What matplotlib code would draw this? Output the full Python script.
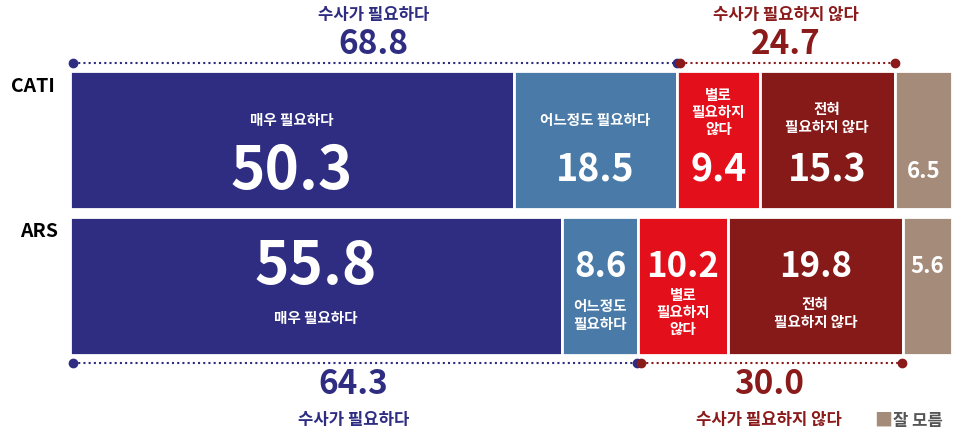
import matplotlib
matplotlib.use("Agg")
import matplotlib.pyplot as plt

plt.rcParams['font.family'] = ['Noto Sans CJK KR', 'DejaVu Sans']

rows = ["CATI", "ARS"]
cati = [50.3, 18.5, 9.4, 15.3, 6.5]
ars = [55.8, 8.6, 10.2, 19.8, 5.6]
cat_labels = ["매우 필요하다", "어느정도 필요하다", "별로 필요하지 않다", "전혀 필요하지 않다", "잘 모름"]
need_top, noneed_top = 68.8, 24.7
need_bot, noneed_bot = 64.3, 30.0
colors = ["#2e2d82", "#4a7ba8", "#e3101b", "#861a19", "#a58b7a"]
navy, dred = "#2e2d82", "#8b1a1a"

fig = plt.figure(figsize=(9.6, 4.35), dpi=100)
ax = fig.add_axes([0, 0, 1, 1])
s = 8.82
ax.set_xlim(-70 / s, (960 - 70) / s)
ax.set_ylim(435, 0)
ax.axis("off")

yc = [141, 287]
h = 138
for vals, y in zip([cati, ars], yc):
    left = 0
    for v, c in zip(vals, colors):
        ax.barh(y, v, left=left, height=h, color=c, edgecolor="white", linewidth=2)
        left += v

W = "white"
def t(x, y, s_, fs, c=W, w="heavy", **kw):
    ax.text(x, y, s_, fontsize=fs, color=c, ha="center", va="center", fontweight=w, **kw)

LB = 10.5
b = [0]
for v in cati: b.append(b[-1] + v)
m = [(b[i] + b[i + 1]) / 2 for i in range(5)]
t(m[0], 120, "매우 필요하다", LB, w="bold")
t(m[0], 172, f"{cati[0]}", 42)
t(m[1], 120, "어느정도 필요하다", LB, w="bold")
t(m[1], 170, f"{cati[1]}", 27)
t(m[2], 112, "별로\n필요하지\n않다", LB, w="bold", linespacing=1.1)
t(m[2], 170, f"{cati[2]}", 27)
t(m[3], 118, "전혀\n필요하지 않다", LB, w="bold", linespacing=1.1)
t(m[3], 170, f"{cati[3]}", 27)
t(m[4], 172, f"{cati[4]}", 16)

b = [0]
for v in ars: b.append(b[-1] + v)
m = [(b[i] + b[i + 1]) / 2 for i in range(5)]
t(m[0], 267, f"{ars[0]}", 42)
t(m[0], 318, "매우 필요하다", LB, w="bold")
t(m[1], 267, f"{ars[1]}", 25)
t(m[1], 315, "어느정도\n필요하다", LB, w="bold", linespacing=1.1)
t(m[2], 267, f"{ars[2]}", 25)
t(m[2], 312, "별로\n필요하지\n않다", LB, w="bold", linespacing=1.1)
t(m[3], 267, f"{ars[3]}", 25)
t(m[3], 313, "전혀\n필요하지 않다", LB, w="bold", linespacing=1.1)
t(m[4], 267, f"{ars[4]}", 16)

t(-4.2, 86, rows[0], 14, c="black")
t(-3.5, 232, rows[1], 14, c="black")

def bracket(x0, x1, y, c):
    ax.plot([x0, x1], [y, y], ls=(0, (1, 1.5)), color=c, lw=1.5)
    ax.plot([x0, x1], [y, y], "o", color=c, ms=6)

bracket(0.3, need_top, 64, navy)
bracket(need_top + 0.4, need_top + noneed_top, 64, dred)
t(need_top / 2, 15, "수사가 필요하다", 12, c=navy, w="bold")
t(need_top / 2, 44, f"{need_top}", 24, c=navy)
xr = need_top + noneed_top / 2
t(xr, 15, "수사가 필요하지 않다", 12, c=dred, w="bold")
t(xr, 44, f"{noneed_top}", 24, c=dred)

bracket(0.3, need_bot, 364, navy)
bracket(need_bot + 0.4, need_bot + noneed_bot, 364, dred)
t(need_bot / 2, 385, f"{need_bot}", 24, c=navy)
t(need_bot / 2, 420, "수사가 필요하다", 12, c=navy, w="bold")
xr = need_bot + noneed_bot / 2
t(xr, 385, f"{noneed_bot:.1f}", 24, c=dred)
t(xr, 420, "수사가 필요하지 않다", 12, c=dred, w="bold")

ax.text((874 - 70) / s, 421, "■", fontsize=13, color=colors[4], ha="left", va="center")
ax.text((893 - 70) / s, 421, cat_labels[4], fontsize=12, color="#555555", ha="left", va="center", fontweight="bold")

fig.savefig("out.png", dpi=100)
